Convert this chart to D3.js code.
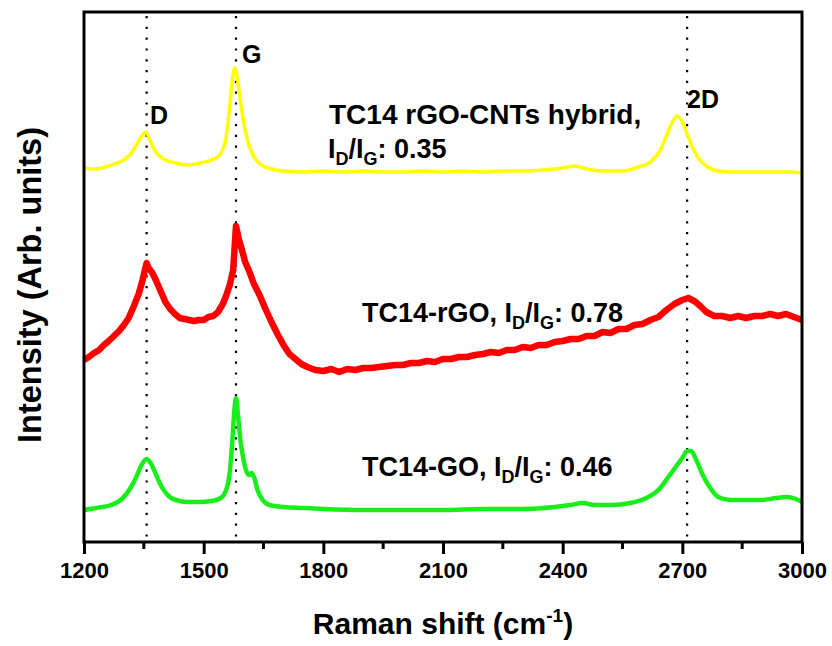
<!DOCTYPE html>
<html>
<head>
<meta charset="utf-8">
<script src="https://cdn.jsdelivr.net/npm/d3@7"></script>
<style>
	body { margin: 0; background: #fff; }
	svg { display: block; font-family: Arial, "Liberation Sans", sans-serif; font-weight: bold; }
</style>
</head>
<body>
<script>
// Raman shift (cm-1) and intensity (arb. units)

var hybridShift = [1200,1230,1268,1295,1315,1330,1345,1355,1365,1380,1400,1430,1460,1490,1520,1540,1555,1565,1572,1578,1585,1592,1600,1612,1625,1645,1670,1700,1750,1800,1850,1900,1950,2000,2050,2100,2150,2200,2250,2300,2350,2400,2430,2460,2500,2550,2590,2620,2645,2660,2675,2687,2700,2712,2725,2740,2760,2790,2830,2880,2930,2970,3000];
var hybridInt = [374,373,377,381,387,396,406,410,402,390,383,379,377,379,382,387,402,434,462,474,462,442,420,399,386,377,373,371,370,371,370,371,370,370,371,370,371,370,371,371,372,374,376,373,371,371,375,380,392,406,420,426,420,408,395,384,376,371,370,370,370,370,369];

var rgoShift = [1200,1212,1225,1238,1250,1262,1275,1288,1300,1312,1325,1337,1347,1352,1357,1362,1370,1380,1392,1404,1416,1428,1440,1452,1464,1476,1488,1500,1512,1524,1536,1548,1558,1566,1574,1581,1588,1596,1604,1614,1626,1640,1655,1670,1685,1700,1715,1730,1745,1760,1780,1800,1820,1840,1860,1880,1900,1920,1940,1960,1980,2000,2020,2040,2060,2080,2100,2120,2140,2160,2180,2200,2220,2240,2260,2280,2300,2320,2340,2360,2380,2400,2420,2440,2460,2480,2500,2520,2540,2560,2580,2600,2620,2640,2660,2680,2700,2715,2730,2745,2760,2780,2800,2820,2840,2860,2880,2900,2920,2940,2960,2980,3000];
var rgoInt = [182,185,189,192,197,201,206,211,217,224,236,248,262,271,279,274,270,262,251,240,233,228,224,223,222,221,222,222,225,226,230,238,248,258,272,316,303,292,280,271,258,247,233,220,208,197,188,183,178,175,172,171,173,170,173,172,174,174,175,176,177,177,179,179,181,180,183,183,185,185,187,188,190,189,192,192,195,194,197,197,200,201,203,203,206,206,210,209,213,213,217,218,222,225,232,238,242,244,241,236,230,226,226,224,226,224,226,226,228,226,228,225,222];

var goShift = [1200,1230,1268,1295,1315,1330,1343,1357,1367,1380,1395,1412,1430,1460,1490,1520,1543,1558,1566,1572,1577,1581,1586,1592,1600,1608,1614,1620,1627,1635,1648,1665,1700,1750,1800,1900,2000,2100,2200,2300,2380,2420,2450,2480,2520,2570,2610,2640,2665,2685,2700,2712,2722,2735,2750,2770,2790,2820,2860,2900,2935,2960,2985,3000];
var goInt = [32,34,37,43,53,64,76,83,79,68,55,46,42,40,40,41,44,54,72,102,132,144,127,102,82,70,67,69,64,52,42,37,35,34,33,32,32,32,33,33,35,37,39,37,37,39,44,52,65,76,84,91,91,82,68,54,45,42,42,42,44,45,43,40];

var peakNames = ['D','G','2D'];
var peakShift = [1357,1581,2712];
var xTicks = [1200,1500,1800,2100,2400,2700,3000];
var xMinor = [1350,1650,1950,2250,2550,2850];

var width = 832, height = 646;
var mLeft = 84, mRight = 802, mTop = 12, mBottom = 542;

var svg = d3.select('body').append('svg').attr('width', width).attr('height', height);

var x = d3.scaleLinear().domain([1200,3000]).range([mLeft,mRight]);
var y = d3.scaleLinear().domain([0,530]).range([mBottom,mTop]);

// dotted peak markers

svg.selectAll('line.peak')
	.data(peakShift)
	.enter().append('line')
		.attr('class','peak')
		.attr('x1', d => x(d))
		.attr('x2', d => x(d))
		.attr('y1', mTop + 4)
		.attr('y2', mBottom)
		.attr('stroke','#000')
		.attr('stroke-width', 2.2)
		.attr('stroke-dasharray','2.2,8.6');

// spectra

var smooth = d3.line()
	.x(d => x(d[0]))
	.y(d => y(d[1]))
	.curve(d3.curveMonotoneX);
var rough = d3.line()
	.x(d => x(d[0]))
	.y(d => y(d[1]));

var spectra = [
	{ shift: goShift, val: goInt, color: '#1aee1a', w: 4.5, line: smooth },
	{ shift: rgoShift, val: rgoInt, color: '#ff0000', w: 6.5, line: rough },
	{ shift: hybridShift, val: hybridInt, color: '#ffff00', w: 3.5, line: smooth }
];

svg.selectAll('path.spec')
	.data(spectra)
	.enter().append('path')
		.attr('class','spec')
		.attr('fill','none')
		.attr('stroke', d => d.color)
		.attr('stroke-width', d => d.w)
		.attr('stroke-linejoin','round')
		.attr('d', d => d.line(d.shift.map((s,i) => [s, d.val[i]])));

// frame and axis

svg.append('rect')
	.attr('x', mLeft).attr('y', mTop)
	.attr('width', mRight - mLeft).attr('height', mBottom - mTop)
	.attr('fill','none').attr('stroke','#000').attr('stroke-width', 3);

var xAxis = d3.axisBottom(x).tickValues(xTicks).tickFormat(d3.format('d')).tickSize(12).tickPadding(8);
var gx = svg.append('g').attr('transform','translate(0,' + mBottom + ')').call(xAxis);
gx.select('.domain').remove();
gx.attr('font-size', 22).attr('font-weight','bold').attr('font-family','Arial, "Liberation Sans", sans-serif');
gx.selectAll('line').attr('stroke','#000').attr('stroke-width', 3);
gx.selectAll('text').attr('fill','#000');

svg.selectAll('line.minor')
	.data(xMinor)
	.enter().append('line')
		.attr('class','minor')
		.attr('x1', d => x(d)).attr('x2', d => x(d))
		.attr('y1', mBottom).attr('y2', mBottom + 7)
		.attr('stroke','#000').attr('stroke-width', 3);

// axis titles

var xt = svg.append('text')
	.attr('x', 443).attr('y', 634)
	.attr('text-anchor','middle')
	.attr('font-size', 30);
xt.append('tspan').text('Raman shift (cm');
xt.append('tspan').attr('dy', -12).attr('font-size', 19).text('-1');
xt.append('tspan').attr('dy', 12).text(')');

svg.append('text')
	.attr('transform','translate(41,285) rotate(-90)')
	.attr('text-anchor','middle')
	.attr('font-size', 32.5)
	.text('Intensity (Arb. units)');

// peak labels

var peakLabelX = [150,242,687];
var peakLabelY = [124,63,108];
svg.selectAll('text.peakname')
	.data(peakNames)
	.enter().append('text')
		.attr('class','peakname')
		.attr('x', (d,i) => peakLabelX[i])
		.attr('y', (d,i) => peakLabelY[i])
		.attr('font-size', 25)
		.text(d => d);

// sample labels with I_D/I_G ratio

function ratio(t, pre, val) {
	if (pre) t.append('tspan').text(pre);
	t.append('tspan').text('I');
	t.append('tspan').attr('font-size', 18).attr('dy', 7).text('D');
	t.append('tspan').attr('dy', -7).text('/I');
	t.append('tspan').attr('font-size', 18).attr('dy', 7).text('G');
	t.append('tspan').attr('dy', -7).text(': ' + val);
}

svg.append('text').attr('x', 329).attr('y', 124).attr('font-size', 28).text('TC14 rGO-CNTs hybrid,');
ratio(svg.append('text').attr('x', 328).attr('y', 158).attr('font-size', 27), '', '0.35');
ratio(svg.append('text').attr('x', 362).attr('y', 322).attr('font-size', 27), 'TC14-rGO, ', '0.78');
ratio(svg.append('text').attr('x', 362).attr('y', 476).attr('font-size', 27), 'TC14-GO, ', '0.46');
</script>
</body>
</html>
